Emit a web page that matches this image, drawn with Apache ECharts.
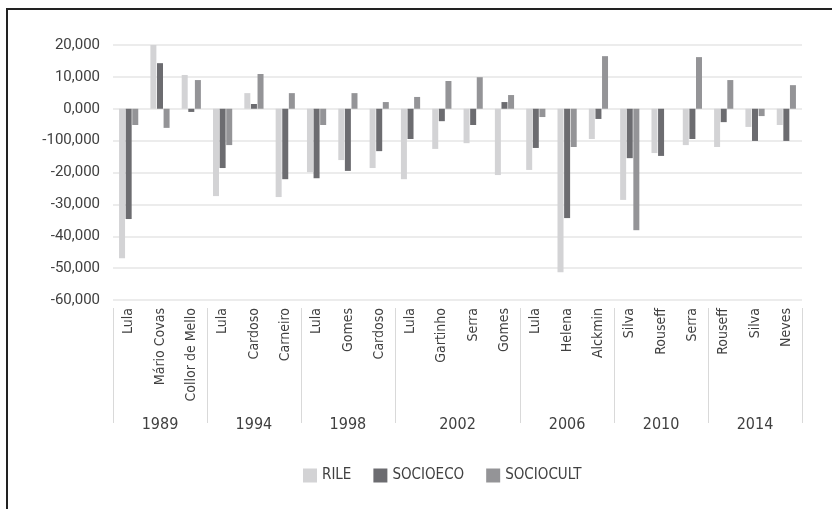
<!DOCTYPE html>
<html>
<head>
<meta charset="utf-8">
<script src="https://cdn.jsdelivr.net/npm/echarts@6/dist/echarts.min.js"></script>
<style>
  html, body { margin: 0; padding: 0; background: #ffffff; }
  #chart { width: 832px; height: 509px; }
</style>
</head>
<body>
<div id="chart"></div>
<script>
// ---- data ----
const candidates = ['Lula', 'Mário Covas', 'Collor de Mello',
  'Lula', 'Cardoso', 'Carneiro',
  'Lula', 'Gomes', 'Cardoso',
  'Lula', 'Gartinho', 'Serra', 'Gomes',
  'Lula', 'Helena', 'Alckmin',
  'Silva', 'Rouseff', 'Serra',
  'Rouseff', 'Silva', 'Neves'];
const years = ['1989', '1994', '1998', '2002', '2006', '2010', '2014'];
const yearGroupSizes = [3, 3, 3, 4, 3, 3, 3];
const rile = [-46.9, 20.2, 10.6, -27.4, 4.9, -27.7, -19.9, -16.1, -18.6, -22.1, -12.6, -10.8, -20.8, -19.2, -51.3, -9.5, -28.6, -13.9, -11.4, -12.0, -5.7, -5.1];
const socioeco = [-34.6, 14.3, -1.0, -18.6, 1.5, -22.1, -21.8, -19.5, -13.3, -9.5, -3.9, -5.1, 2.1, -12.3, -34.3, -3.2, -15.5, -14.8, -9.5, -4.2, -10.1, -10.1];
const sociocult = [-5.1, -6.0, 9.0, -11.4, 10.9, 4.9, -5.1, 4.9, 2.1, 3.7, 8.7, 9.9, 4.3, -2.6, -12.0, 16.5, -38.1, 0, 16.2, 9.0, -2.3, 7.4];
const yTickValues = [-60, -50, -40, -30, -20, -10, 0, 10, 20];
const yTickLabels = ['-60,000', '-50,000', '-40,000', '-30,000', '-20,000', '-100,000', '0,000', '10,000', '20,000'];

// group boundaries & centres (in category units) for the year axis
const boundaries = [0];
yearGroupSizes.forEach(s => boundaries.push(boundaries[boundaries.length - 1] + s));
const centres = yearGroupSizes.map((s, i) => boundaries[i] + s / 2);

const narrow = '"Liberation Sans Narrow", "DejaVu Sans Condensed", Roboto, sans-serif';
const textColor = '#404040';

const chart = echarts.init(document.getElementById('chart'), null, { renderer: 'canvas' });
chart.setOption({
  animation: false,
  backgroundColor: '#ffffff',
  graphic: [{
    type: 'rect',
    shape: { x: 7, y: 9, width: 900, height: 600 },
    style: { fill: 'none', stroke: '#222222', lineWidth: 2 },
    silent: true
  }],
  grid: { left: 113, right: 30, top: 45, bottom: 209, containLabel: false },
  legend: {
    left: 298, top: 463,
    itemWidth: 14, itemHeight: 14, itemGap: 22,
    icon: 'rect',
    textStyle: { fontFamily: narrow, fontSize: 15, color: textColor },
    data: ['RILE', 'SOCIOECO', 'SOCIOCULT']
  },
  xAxis: [{
    type: 'category',
    data: candidates,
    boundaryGap: true,
    axisLine: { show: false },
    axisTick: { show: false },
    axisLabel: {
      rotate: 90, margin: 8, interval: 0,
      fontFamily: narrow, fontSize: 14, color: textColor
    },
    splitLine: { show: false }
  }, {
    type: 'value',
    position: 'bottom',
    offset: 8,
    min: 0, max: candidates.length,
    axisLine: { show: false },
    splitLine: { show: false },
    axisTick: {
      show: true, inside: false, length: 115,
      customValues: boundaries,
      lineStyle: { color: '#d9d9d9', width: 1 }
    },
    axisLabel: {
      show: true, margin: 109,
      customValues: centres,
      formatter: function (v) {
        const i = centres.findIndex(c => Math.abs(c - v) < 1e-6);
        return i >= 0 ? years[i] : '';
      },
      fontFamily: narrow, fontSize: 16, color: textColor
    }
  }],
  yAxis: {
    type: 'value',
    min: -60, max: 20, interval: 10,
    axisLine: { show: false },
    axisTick: { show: false },
    axisLabel: {
      margin: 13,
      fontFamily: 'Roboto, sans-serif', fontSize: 15, color: textColor,
      formatter: function (v) {
        const i = yTickValues.indexOf(Math.round(v));
        return i >= 0 ? yTickLabels[i] : '';
      }
    },
    splitLine: { lineStyle: { color: '#e6e6e6', width: 1.5 } }
  },
  series: [
    { name: 'RILE', type: 'bar', xAxisIndex: 0, data: rile, barWidth: 6, barGap: '10%', itemStyle: { color: '#d3d3d5' } },
    { name: 'SOCIOECO', type: 'bar', xAxisIndex: 0, data: socioeco, barWidth: 6, barGap: '10%', itemStyle: { color: '#6c6c70' } },
    { name: 'SOCIOCULT', type: 'bar', xAxisIndex: 0, data: sociocult, barWidth: 6, barGap: '10%', itemStyle: { color: '#949497' } }
  ]
});
</script>
</body>
</html>
